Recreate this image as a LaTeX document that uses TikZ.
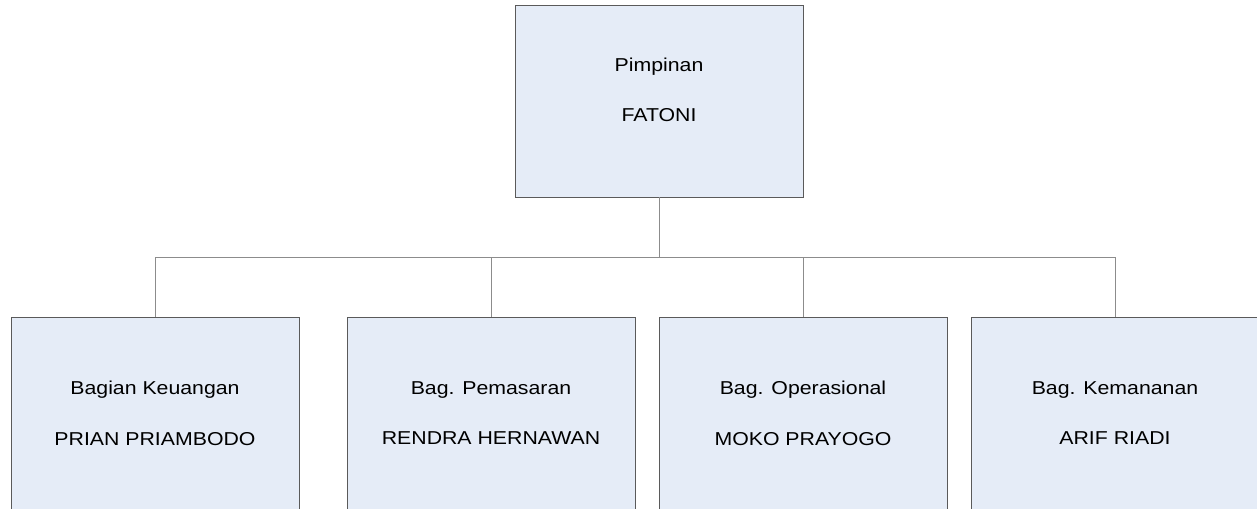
\documentclass[tikz,border=0pt]{standalone}
\usepackage{fontspec}
\setmainfont{Liberation Sans}[FakeStretch=1.14]
\usetikzlibrary{positioning}
\definecolor{boxfill}{RGB}{229,236,247}
\definecolor{boxline}{RGB}{90,90,90}
\definecolor{linkgray}{RGB}{140,140,140}
\tikzset{
  jabatan/.style={
    draw=boxline,
    fill=boxfill,
    rectangle,
    line width=0.75pt,
    minimum width=216pt,
    minimum height=144pt,
    align=center,
    inner sep=0pt,
    outer sep=0pt,
    font=\fontsize{14pt}{38pt}\selectfont
  },
  link/.style={
    draw=linkgray,
    line width=0.75pt
  }
}
\begin{document}
\begin{tikzpicture}[x=0.75pt, y=-0.75pt]
    \useasboundingbox (0,0) rectangle (1257,508);
    \clip (0,0) rectangle (1257,508);
    \node[jabatan, text depth=17pt] (pimpinan) at (659,101) {Pimpinan\\FATONI};
    \node[jabatan] (keu) at (155,413) {Bagian Keuangan\\PRIAN PRIAMBODO};
    \node[jabatan, right=36pt of keu] (pem) {Bag. Pemasaran\\RENDRA HERNAWAN};
    \node[jabatan, right=18pt of pem] (ops) {Bag. Operasional\\MOKO PRAYOGO};
    \node[jabatan, right=18pt of ops] (kam) {Bag. Kemananan\\ARIF RIADI};
    \coordinate (bus) at (659,257);

    \draw[link] (pimpinan.south) -- (bus);
    \foreach \n in {keu, pem, ops, kam}
        \draw[link] (bus) -| (\n.north);
\end{tikzpicture}
\end{document}
